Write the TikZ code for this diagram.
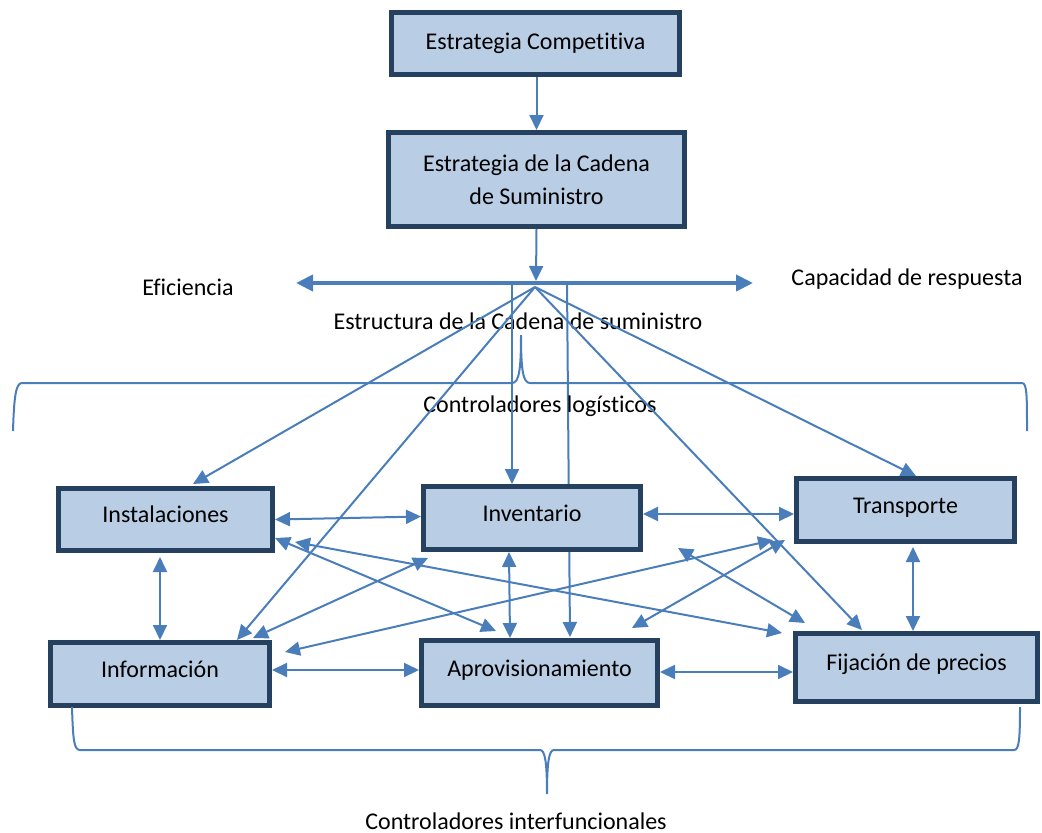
\documentclass[tikz,border=0pt]{standalone}
\usepackage{fontspec}
\setmainfont{Carlito}[Ligatures={NoCommon,NoRare,NoContextual}]
\usetikzlibrary{arrows.meta}
\definecolor{lineblue}{RGB}{74,126,187}
\definecolor{boxborder}{RGB}{38,64,96}
\definecolor{boxfill}{RGB}{185,205,229}
\tikzset{
  bluetip/.tip={Triangle[length=15pt,width=14pt]},
  bigtip/.tip={Triangle[length=17pt,width=16pt]},
  box/.style={draw=boxborder, line width=5pt, fill=boxfill, inner sep=0pt,
    font=\fontsize{24}{33}\selectfont, align=center},
  onebox/.style={box, text height=17pt, text depth=11pt},
  lbl/.style={font=\fontsize{24}{30}\selectfont, inner sep=0pt, anchor=base},
  conn/.style={draw=lineblue, line width=2pt},
  arr/.style={conn, -{bluetip}},
  darr/.style={conn, {bluetip}-{bluetip}},
  bigarr/.style={draw=lineblue, line width=4pt, {bigtip}-{bigtip}},
  bracepath/.style={draw=lineblue, line width=2pt}
}
\begin{document}
\begin{tikzpicture}[x=1pt,y=-1pt]
\useasboundingbox (0,0) rectangle (1042,833);
% named coordinates
\coordinate (fan) at (535,287);
\coordinate (jtop) at (536,281);
\coordinate (effL) at (296,283);
\coordinate (effR) at (753,283);
\coordinate (vA) at (512,283);
\coordinate (vB) at (567,283);
\coordinate (aprTop) at (570,637);
% line passing behind Inventario
\draw[arr] (vB) -- (aprTop);
% boxes
\node[box, minimum width=288pt, minimum height=62pt] (comp) at (535.5,43.5) {Estrategia Competitiva};
\node[box, minimum width=296pt, minimum height=94pt] (cad) at (536.5,179.5) {Estrategia de la Cadena\\de Suministro};
\node[onebox, minimum width=214pt, minimum height=62pt] (inst) at (165.5,519.5) {Instalaciones};
\node[onebox, minimum width=217pt, minimum height=63pt] (inv) at (532,518) {Inventario};
\node[onebox, minimum width=218pt, minimum height=63pt] (trans) at (905.5,510) {Transporte};
\node[onebox, minimum width=219pt, minimum height=63pt] (info) at (160,674) {Información};
\node[onebox, minimum width=236pt, minimum height=65pt] (aprov) at (539.5,673) {Aprovisionamiento};
\node[onebox, minimum width=242pt, minimum height=68pt] (fij) at (916.5,667.5) {Fijación de precios};
% labels
\node[lbl] (efi) at (188,295) {Eficiencia};
\node[lbl] (capr) at (907,285) {Capacidad de respuesta};
\node[lbl] (estr) at (518,329) {Estructura de la Cadena de suministro};
\node[lbl] (clog) at (540,412) {Controladores logísticos};
\node[lbl] (cint) at (516,829) {Controladores interfuncionales};
% top connectors
\draw[arr] (cad.north |- comp.south) -- (cad.north);
\draw[arr] (cad.south) -- (jtop);
\draw[bigarr] (effL) -- (effR);
\draw[arr] (vA) -- (vA |- inv.north);
% fan lines
\coordinate (instTop) at (193,484);
\coordinate (infoTop) at (237,640);
\coordinate (fijTop) at (862,630);
\coordinate (transTop) at (916,476);
\draw[arr] (fan) -- (instTop);
\draw[arr] (fan) -- (infoTop);
\draw[arr] (fan) -- (fijTop);
\draw[arr] (fan) -- (transTop);
% links between boxes
\draw[darr] (inst.east) -- ([yshift=1.5pt]inv.west);
\draw[darr] ([yshift=4pt]inv.east) -- ([yshift=-4pt]trans.west);
\draw[darr] ([yshift=-4pt]inst.south -| info.north) -- (info.north);
\draw[darr] ([xshift=7.5pt,yshift=-3pt]trans.south) -- ([xshift=-3.5pt]fij.north);
\draw[darr] ([yshift=4pt]info.east) -- ([yshift=3pt]aprov.west);
\draw[darr] ([yshift=1pt]aprov.east) -- ([yshift=-4.5pt]fij.west);
\draw[darr] ([xshift=-23pt]inv.south) -- ([xshift=-29.5pt]aprov.north);
% crossing links
\coordinate (c1a) at (275,538); \coordinate (c1b) at (496,631);
\coordinate (c2a) at (295,542); \coordinate (c2b) at (782,633);
\coordinate (c3a) at (253,638); \coordinate (c3b) at (428,558);
\coordinate (c4a) at (285,652); \coordinate (c4b) at (773,540);
\coordinate (c5a) at (632,628); \coordinate (c5b) at (785,540);
\coordinate (c6a) at (678,548); \coordinate (c6b) at (805,623);
\draw[darr] (c1a) -- (c1b);
\draw[darr] (c2a) -- (c2b);
\draw[darr] (c3a) -- (c3b);
\draw[darr] (c4a) -- (c4b);
\draw[darr] (c5a) -- (c5b);
\draw[darr] (c6a) -- (c6b);
% braces
\draw[bracepath] (13,431) .. controls (14,396) and (16,383) .. (22,383) -- (512,383)
  .. controls (519,383) and (521,370) .. (521,335)
  .. controls (521,370) and (523,383) .. (530,383) -- (1022,383)
  .. controls (1027,383) and (1027,396) .. (1027,431);
\draw[bracepath] (72,707) .. controls (73,740) and (74,750) .. (80,750) -- (540,750)
  .. controls (545,750) and (547,762) .. (547,794)
  .. controls (547,762) and (549,750) .. (554,750) -- (1014,750)
  .. controls (1019,750) and (1020,740) .. (1020,707);
\end{tikzpicture}
\end{document}
